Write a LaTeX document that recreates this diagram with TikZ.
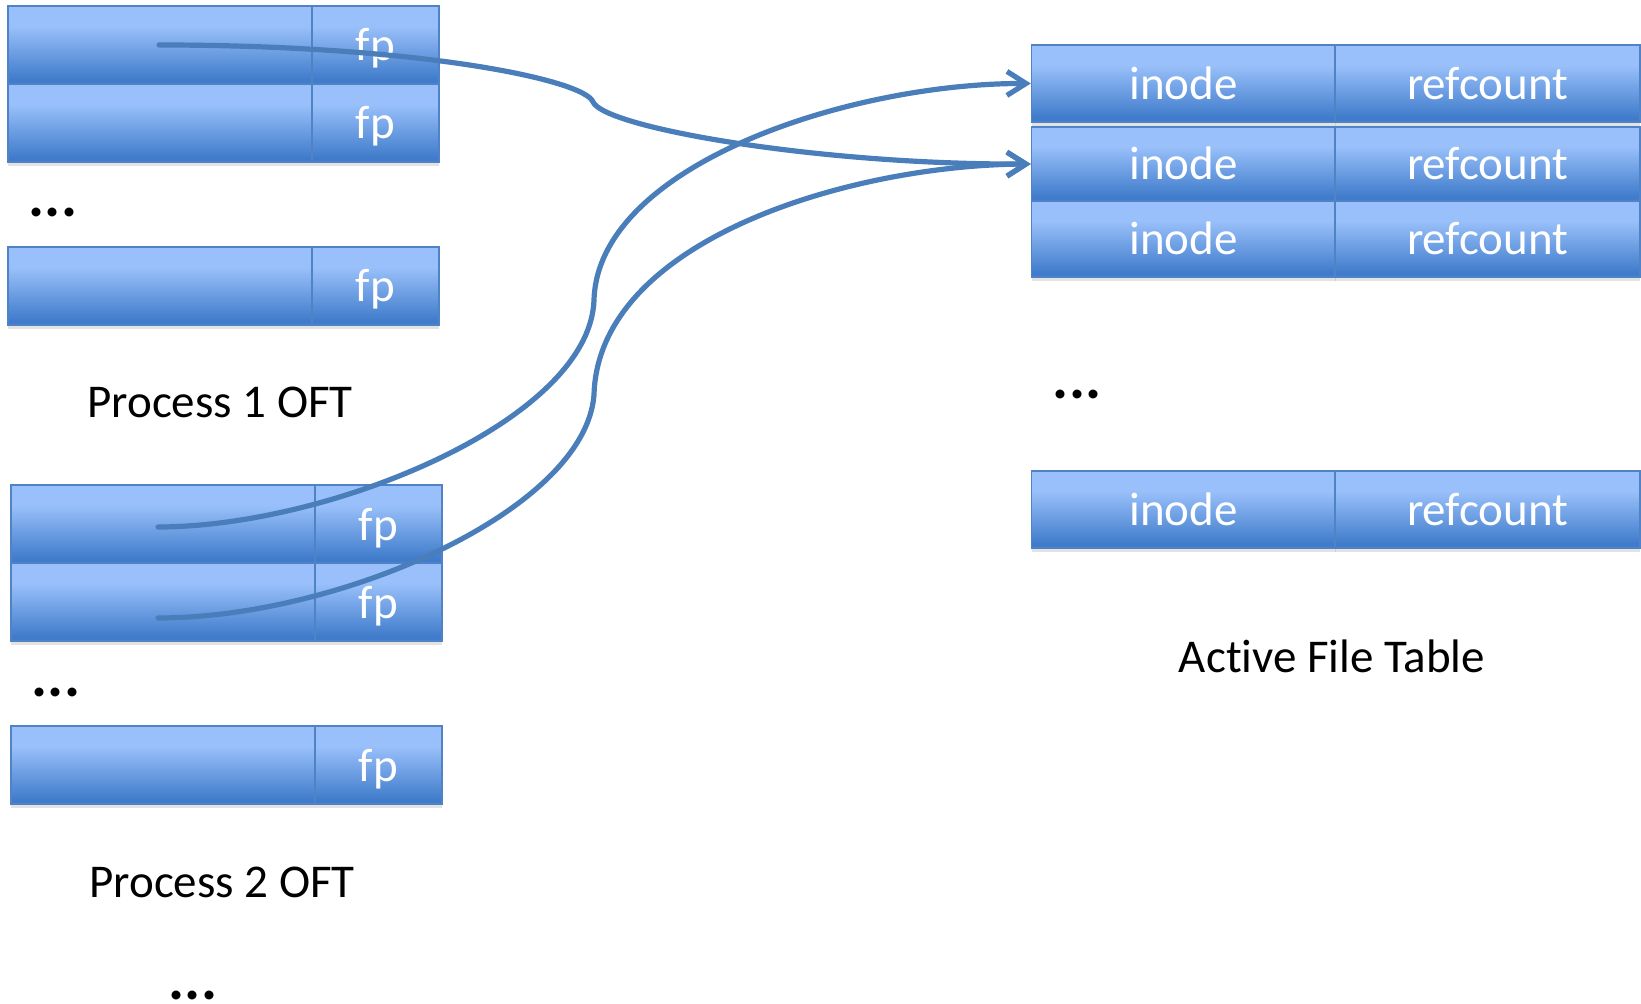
\documentclass[tikz,border=0pt]{standalone}
\usepackage{fontspec}
\setmainfont{Carlito}[RawFeature={-liga;-clig;-dlig;-calt}]
\usetikzlibrary{arrows.meta,shadows,calc}

\definecolor{celllight}{RGB}{153,192,250}
\definecolor{celldark}{RGB}{64,124,203}
\definecolor{cellline}{RGB}{80,130,198}
\definecolor{linkblue}{RGB}{74,126,187}

% light at the top, deeper blue towards the bottom
\pgfdeclareverticalshading{cellshade}{100bp}{color(0bp)=(celldark); color(28bp)=(celldark); color(62bp)=(celllight); color(100bp)=(celllight)}

\begin{document}
\begin{tikzpicture}[x=0.5pt,y=-0.5pt,
  txt/.style={font=\fontsize{23.5}{28}\selectfont},
  cell/.style={txt, draw=cellline, line width=0.7pt, shading=cellshade,
    inner sep=0pt, text=white, text height=16pt, text depth=0pt,
    drop shadow={shadow xshift=0pt, shadow yshift=-1.8pt, opacity=0.22}},
  wide/.style={cell, minimum width=152pt},
  narrow/.style={cell, minimum width=63.5pt},
  afcell/.style={cell, minimum width=152pt},
  label/.style={txt, inner sep=0pt, text=black},
  dots/.style={font=\fontsize{30}{32}\selectfont\bfseries, inner sep=0pt},
  link/.style={draw=linkblue, line width=2.6pt, line cap=round,
    -{Straight Barb[length=9.5pt,width=12pt,line width=2.6pt]}}]

\useasboundingbox (0,0) rectangle (1641,1004);

% Process 1 open file table
\node[wide,   minimum height=39pt] (p1r1l) at (160,45)  {};
\node[narrow, minimum height=39pt] (p1r1r) at (375.5,45)  {fp};
\node[wide,   minimum height=39pt] (p1r2l) at (160,123) {};
\node[narrow, minimum height=39pt] (p1r2r) at (375.5,123) {fp};
\node[dots] (p1dots) at (53,212.5) {...};
\node[wide,   minimum height=39pt] (p1r3l) at (160,286) {};
\node[narrow, minimum height=39pt] (p1r3r) at (375.5,286) {fp};
\node[label] (p1name) at (220,402) {Process 1 OFT};

% Process 2 open file table
\node[wide,   minimum height=39pt] (p2r1l) at (163,524) {};
\node[narrow, minimum height=39pt] (p2r1r) at (378.5,524) {fp};
\node[wide,   minimum height=39pt] (p2r2l) at (163,602) {};
\node[narrow, minimum height=39pt] (p2r2r) at (378.5,602) {fp};
\node[dots] (p2dots) at (56,692) {...};
\node[wide,   minimum height=39pt] (p2r3l) at (163,765) {};
\node[narrow, minimum height=39pt] (p2r3r) at (378.5,765) {fp};
\node[label] (p2name) at (222,882) {Process 2 OFT};

\node[dots] (moredots) at (193,995) {...};

% Active file table
\node[afcell, minimum height=38.5pt] (a1l) at (1183.5,83.5) {inode};
\node[afcell, minimum height=38.5pt, minimum width=152.5pt] (a1r) at (1487.5,83.5) {refcount};
\node[afcell, minimum height=37pt] (a2l) at (1183.5,164) {inode};
\node[afcell, minimum height=37pt, minimum width=152.5pt] (a2r) at (1487.5,164) {refcount};
\node[afcell, minimum height=38pt] (a3l) at (1183.5,239) {inode};
\node[afcell, minimum height=38pt, minimum width=152.5pt] (a3r) at (1487.5,239) {refcount};
\node[dots] (adots) at (1077,394) {...};
\node[afcell, minimum height=38.5pt] (a4l) at (1183.5,509.5) {inode};
\node[afcell, minimum height=38.5pt, minimum width=152.5pt] (a4r) at (1487.5,509.5) {refcount};
\node[label] (aname) at (1332,656) {Act\kern0pt ive File Table};

% file pointers into the active file table
\draw[link] ($(p1r1l.center)+(-1,0)$)
  .. controls (420,45) and (585,80) .. (593,102)
  .. controls (605,128) and (820,165) .. (a2l.west);
\draw[link] ($(p2r1l.center)+(-5,3)$)
  .. controls (330,527) and (590,420) .. (594,300)
  .. controls (598,165) and (850,83) .. (a1l.west);
\draw[link] ($(p2r2l.center)+(-5,16)$)
  .. controls (340,618) and (585,510) .. (594,395)
  .. controls (598,240) and (850,165) .. (a2l.west);

\end{tikzpicture}
\end{document}
